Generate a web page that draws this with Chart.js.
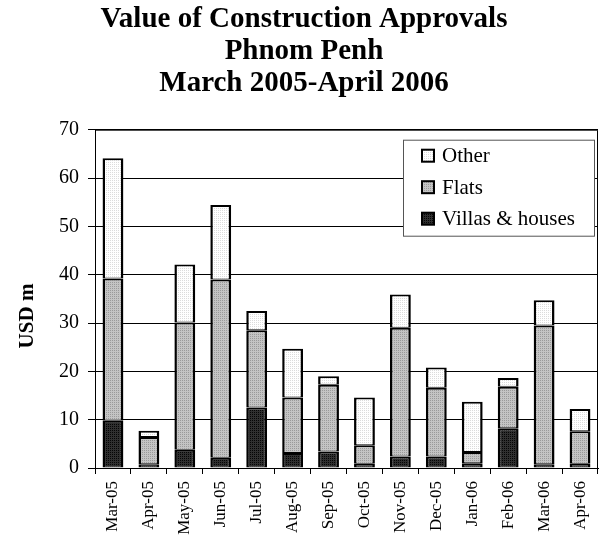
<!DOCTYPE html>
<html>
<head>
<meta charset="utf-8">
<script src="https://cdn.jsdelivr.net/npm/chart.js@4/dist/chart.umd.min.js"></script>
<style>
  html, body { margin: 0; padding: 0; background: #fff; }
  #wrap { width: 612px; height: 539px; }
</style>
</head>
<body>
<div id="wrap"><canvas id="myChart" width="612" height="539"></canvas></div>
<script>
const months = ["Mar-05", "Apr-05", "May-05", "Jun-05", "Jul-05", "Aug-05", "Sep-05",
  "Oct-05", "Nov-05", "Dec-05", "Jan-06", "Feb-06", "Mar-06", "Apr-06"];
const villas = [9.8, 0.8, 3.8, 2.1, 12.5, 3.1, 3.4, 0.9, 2.4, 2.4, 1.0, 8.2, 0.8, 0.9];
const flats = [29.4, 5.6, 26.3, 36.9, 16.0, 11.5, 13.8, 3.8, 26.6, 14.2, 2.3, 8.6, 28.7, 6.7];
const other = [24.9, 1.3, 12.0, 15.4, 4.0, 10.1, 1.8, 9.9, 6.9, 4.2, 10.4, 1.8, 5.2, 4.6];
const yTicks = [0, 10, 20, 30, 40, 50, 60, 70];

const serif = "'Liberation Serif', 'Times New Roman', serif";

// small dotted fills like the old spreadsheet patterns
function makePattern(bg, dot) {
  const c = document.createElement("canvas");
  c.width = 2;
  c.height = 2;
  const g = c.getContext("2d");
  g.fillStyle = bg;
  g.fillRect(0, 0, 2, 2);
  g.fillStyle = dot;
  g.fillRect(0, 0, 1, 1);
  return g.createPattern(c, "repeat");
}
const otherFill = makePattern("#ffffff", "#dcdcdc");
const flatsFill = makePattern("#c4c4c4", "#9a9a9a");
const villasFill = makePattern("#303030", "#050505");

const frame = {
  id: "frame",
  beforeDatasetsDraw(chart) {
    const { ctx, chartArea: a } = chart;
    ctx.save();
    ctx.strokeStyle = "#000";
    ctx.lineWidth = 1;
    ctx.beginPath();
    ctx.moveTo(a.left, a.top + 0.5);
    ctx.lineTo(a.right - 0.5, a.top + 0.5);
    ctx.lineTo(a.right - 0.5, a.bottom);
    ctx.stroke();
    ctx.restore();
  },
  afterDraw(chart) {
    // y axis title sits a bit below the middle of the plot in the original
    const { ctx } = chart;
    ctx.save();
    ctx.translate(28, 316);
    ctx.rotate(-Math.PI / 2);
    ctx.font = "bold 21px " + serif;
    ctx.fillStyle = "#000";
    ctx.textAlign = "center";
    ctx.textBaseline = "middle";
    ctx.fillText("USD m", 0, 0);
    ctx.restore();
  },
};

const boxLegend = {
  id: "boxLegend",
  afterDraw(chart) {
    const { ctx, chartArea: a } = chart;
    const w = 191, h = 96;
    const x = a.right - 4 - w;
    const y = a.top + 10;
    ctx.save();
    ctx.fillStyle = "#fff";
    ctx.fillRect(x, y, w, h);
    ctx.strokeStyle = "#555";
    ctx.lineWidth = 1;
    ctx.strokeRect(x + 0.5, y + 0.5, w, h);
    const items = [
      ["Other", otherFill],
      ["Flats", flatsFill],
      ["Villas & houses", villasFill],
    ];
    ctx.font = "21px " + serif;
    ctx.textBaseline = "middle";
    items.forEach((it, i) => {
      const cy = y + 16 + i * 31.5;
      ctx.fillStyle = it[1];
      ctx.fillRect(x + 19, cy - 6, 12, 12);
      ctx.strokeStyle = "#000";
      ctx.lineWidth = 2;
      ctx.strokeRect(x + 19, cy - 6, 12, 12);
      ctx.fillStyle = "#000";
      ctx.fillText(it[0], x + 39, cy + 1);
    });
    ctx.restore();
  },
};

const ctx = document.getElementById("myChart");

new Chart(ctx, {
  type: "bar",
  data: {
    labels: months,
    datasets: [
      { label: "Villas & houses", data: villas, backgroundColor: villasFill },
      { label: "Flats", data: flats, backgroundColor: flatsFill },
      { label: "Other", data: other, backgroundColor: otherFill },
    ].map((d) => ({
      ...d,
      borderColor: "#000",
      borderWidth: { top: 2, left: 2.5, right: 2.5, bottom: 1 },
      borderSkipped: false,
      barPercentage: 0.58,
      categoryPercentage: 1,
    })),
  },
  plugins: [frame, boxLegend],
  options: {
    responsive: false,
    animation: false,
    layout: { padding: { left: 10, right: 14, top: 0, bottom: 0 } },
    plugins: {
      legend: { display: false },
      tooltip: { enabled: false },
      title: {
        display: true,
        text: ["Value of Construction Approvals", "Phnom Penh", "March 2005-April 2006"],
        color: "#000",
        font: { family: serif, size: 29, weight: "bold", lineHeight: 1.1 },
        padding: { top: 4, bottom: 30 },
      },
    },
    scales: {
      x: {
        stacked: true,
        afterFit(scale) {
          scale.height = 539 - 468;
        },
        grid: {
          offset: true,
          drawOnChartArea: false,
          color: "#000",
          tickLength: 6,
        },
        border: { color: "#000", width: 1 },
        ticks: {
          color: "#000",
          font: { family: serif, size: 17 },
          minRotation: 90,
          maxRotation: 90,
          autoSkip: false,
          padding: 7,
        },
      },
      y: {
        stacked: true,
        min: 0,
        max: 70,
        afterBuildTicks(scale) {
          scale.ticks = yTicks.map((v) => ({ value: v }));
        },
        afterFit(scale) {
          scale.width = 85;
        },
        grid: { color: "#000", tickLength: 7 },
        border: { color: "#000", width: 1 },
        ticks: {
          color: "#000",
          font: { family: serif, size: 20 },
          padding: 9,
        },
      },
    },
  },
});
</script>
</body>
</html>
